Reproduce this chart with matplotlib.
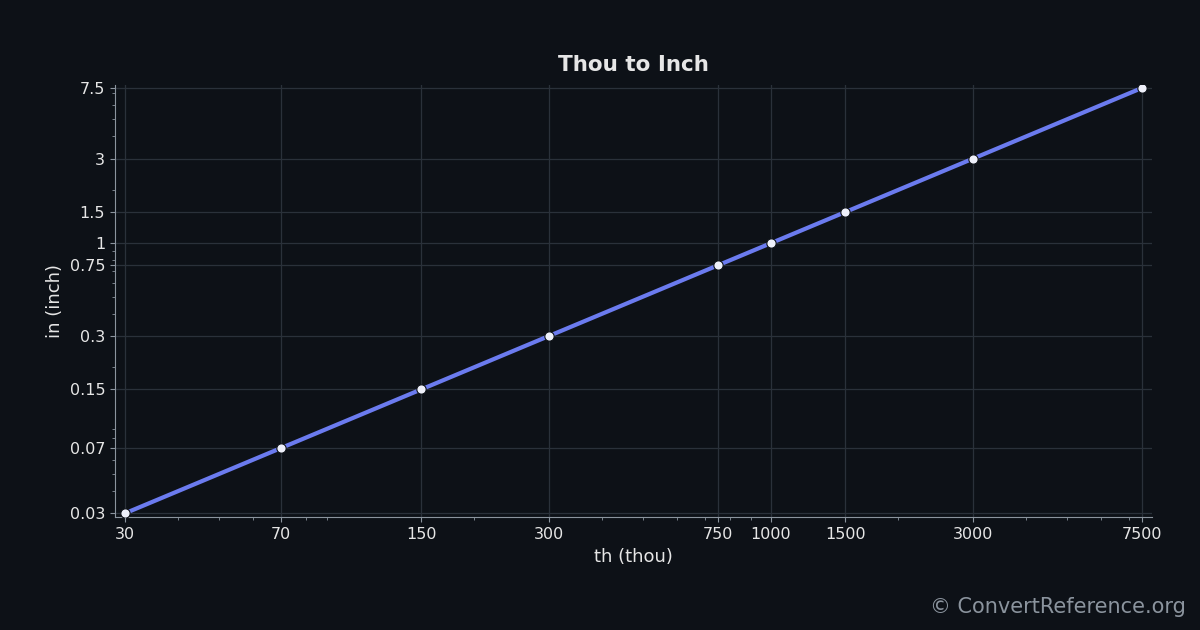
import matplotlib
matplotlib.use("Agg")
import matplotlib.pyplot as plt
from matplotlib.ticker import FixedLocator, FixedFormatter, NullFormatter

thou = [30, 70, 150, 300, 750, 1000, 1500, 3000, 7500]
inch = [0.03, 0.07, 0.15, 0.3, 0.75, 1, 1.5, 3, 7.5]
xlabels = ["30", "70", "150", "300", "750", "1000", "1500", "3000", "7500"]
ylabels = ["0.03", "0.07", "0.15", "0.3", "0.75", "1", "1.5", "3", "7.5"]

BG = "#0d1117"; INK = "#e6e6e6"; GRID = "#2a313a"; LINE = "#6b7bef"

fig = plt.figure(figsize=(12, 6.3), dpi=100)
fig.patch.set_facecolor(BG)
ax = fig.add_axes([0.0958, 0.179, 0.864, 0.686])
ax.set_facecolor(BG)
ax.plot(thou, inch, color=LINE, lw=3, zorder=3)
ax.scatter(thou, inch, s=45, color="#eef0fa", edgecolor=BG, lw=0.8, zorder=4)
ax.set_xscale("log"); ax.set_yscale("log")
ax.set_xlim(28.4, 7920); ax.set_ylim(0.0285, 7.8)
ax.xaxis.set_major_locator(FixedLocator(thou))
ax.xaxis.set_major_formatter(FixedFormatter(xlabels))
ax.xaxis.set_minor_formatter(NullFormatter())
ax.yaxis.set_major_locator(FixedLocator(inch))
ax.yaxis.set_major_formatter(FixedFormatter(ylabels))
ax.yaxis.set_minor_formatter(NullFormatter())
ax.grid(True, which="major", color=GRID, lw=0.9)
ax.set_axisbelow(True)
for s in ["top", "right"]:
    ax.spines[s].set_visible(False)
for s in ["left", "bottom"]:
    ax.spines[s].set_color("#8b949e")
ax.tick_params(which="both", colors="#8b949e", labelcolor=INK, labelsize=11.5)
ax.set_xlabel("th (thou)", fontsize=13, color=INK)
ax.set_ylabel("in (inch)", fontsize=13, color=INK)
ax.set_title("Thou to Inch", fontsize=15.5, color=INK, weight="bold", pad=10)
fig.text(0.988, 0.02, "© ConvertReference.org", ha="right", va="bottom",
         fontsize=15, color="#8b949e")
fig.savefig("out.png", dpi=100, facecolor=BG)
